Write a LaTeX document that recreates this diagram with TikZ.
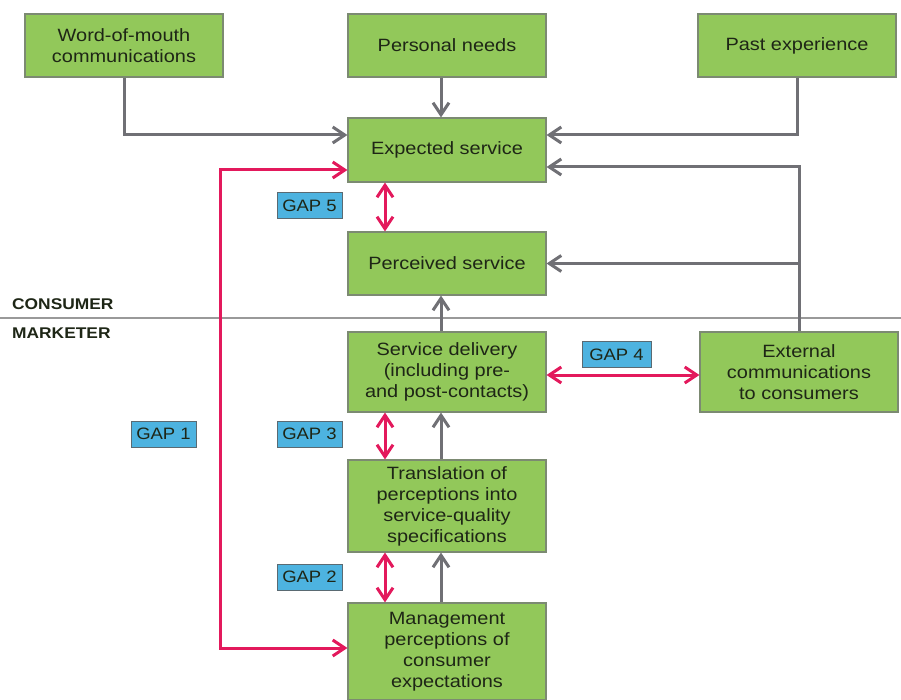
\documentclass[tikz,border=0pt]{standalone}
\usepackage{fontspec}
\setmainfont{Liberation Sans}[FakeStretch=1.12]
\usetikzlibrary{arrows.meta}
\definecolor{boxgreen}{HTML}{92C85A}
\definecolor{boxedge}{HTML}{7C8A72}
\definecolor{gapblue}{HTML}{4DB3E0}
\definecolor{gapedge}{HTML}{5A6A72}
\definecolor{gapred}{HTML}{E3195C}
\definecolor{linegray}{HTML}{707075}
\definecolor{txt}{HTML}{1E2616}
\tikzset{
  box/.style={draw=boxedge, line width=1.2pt, fill=boxgreen, minimum width=198pt,
    inner sep=0pt, align=center, text=txt,
    font=\fontsize{17.8}{21}\selectfont},
  gaplabel/.style={draw=gapedge, line width=1pt, fill=gapblue, minimum width=65pt,
    minimum height=26pt, inner sep=0pt, text=txt, font=\fontsize{16.5}{20}\selectfont},
  garrow/.style={draw=linegray, line width=3pt,
    -{Straight Barb[length=12pt,width=16pt]}},
  rarrow/.style={draw=gapred, line width=3pt,
    {Straight Barb[length=12pt,width=16pt]}-{Straight Barb[length=12pt,width=16pt]}},
  sidelabel/.style={anchor=base west, inner sep=0pt, text=txt,
    font=\fontsize{15.5}{18}\selectfont\bfseries},
  sepline/.style={draw=black!40, line width=1.2pt}
}
\begin{document}
\begin{tikzpicture}[x=1pt,y=-1pt]
\useasboundingbox (0,0) rectangle (901,700);

% separator
\coordinate (sepL) at (0,318);
\coordinate (sepR) at (901,318);
\draw[sepline] (sepL) -- (sepR);
\node[sidelabel] (consumer) at (12,309) {CONSUMER};
\node[sidelabel] (marketer) at (12,338) {MARKETER};

% boxes
\node[box, minimum height=63pt] (wom) at (124,45.5) {Word-of-mouth\\communications};
\node[box, minimum height=63pt] (pn) at (447,45.5) {Personal needs};
\node[box, minimum height=63pt] (pe) at (797,45.5) {Past experience};
\node[box, minimum height=64pt] (es) at (447,150) {Expected service};
\node[box, minimum height=63pt] (ps) at (447,263.5) {Perceived service};
\node[box, minimum height=80pt] (sd) at (447,372) {Service delivery\\(including pre-\\and post-contacts)};
\node[box, minimum height=80pt] (ec) at (799,372) {External\\communications\\to consumers};
\node[box, minimum height=92pt] (tr) at (447,506) {Translation of\\perceptions into\\service-quality\\specifications};
\node[box, minimum height=97pt] (mg) at (447,651.5) {Management\\perceptions of\\consumer\\expectations};

% gap labels
\node[gaplabel] (g5) at (309.5,206) {GAP 5};
\node[gaplabel, minimum width=69pt] (g4) at (616.5,354.5) {GAP 4};
\node[gaplabel] (g1) at (163.5,434) {GAP 1};
\node[gaplabel] (g3) at (309.5,434) {GAP 3};
\node[gaplabel] (g2) at (309.5,577) {GAP 2};

% gray connectors
\draw[garrow] (wom.south) |- ([yshift=15pt]es.west);
\draw[garrow] ([xshift=-6pt]pn.south) -- ([xshift=-6pt]es.north);
\draw[garrow] (pe.south) |- ([yshift=15pt]es.east);
\draw[garrow] (ec.north) |- ([yshift=-17pt]es.east);
\draw[garrow] (ec.north |- ps.east) -- (ps.east);
\draw[garrow] ([xshift=-6pt]sd.north) -- ([xshift=-6pt]ps.south);
\draw[garrow] ([xshift=-6pt]tr.north) -- ([xshift=-6pt]sd.south);
\draw[garrow] ([xshift=-6pt]mg.north) -- ([xshift=-6pt]tr.south);

% red gap connectors
\draw[rarrow] ([xshift=-62pt]es.south) -- ([xshift=-62pt]ps.north);
\draw[rarrow] ([xshift=-62pt]sd.south) -- ([xshift=-62pt]tr.north);
\draw[rarrow] ([xshift=-62pt]tr.south) -- ([xshift=-62pt]mg.north);
\draw[rarrow] ([yshift=-3pt]sd.east) -- ([yshift=-3pt]ec.west);
\coordinate (gapone) at (220,400);
\draw[rarrow] ([yshift=-20pt]es.west) -| (gapone) |- ([yshift=3.5pt]mg.west);
\end{tikzpicture}
\end{document}
